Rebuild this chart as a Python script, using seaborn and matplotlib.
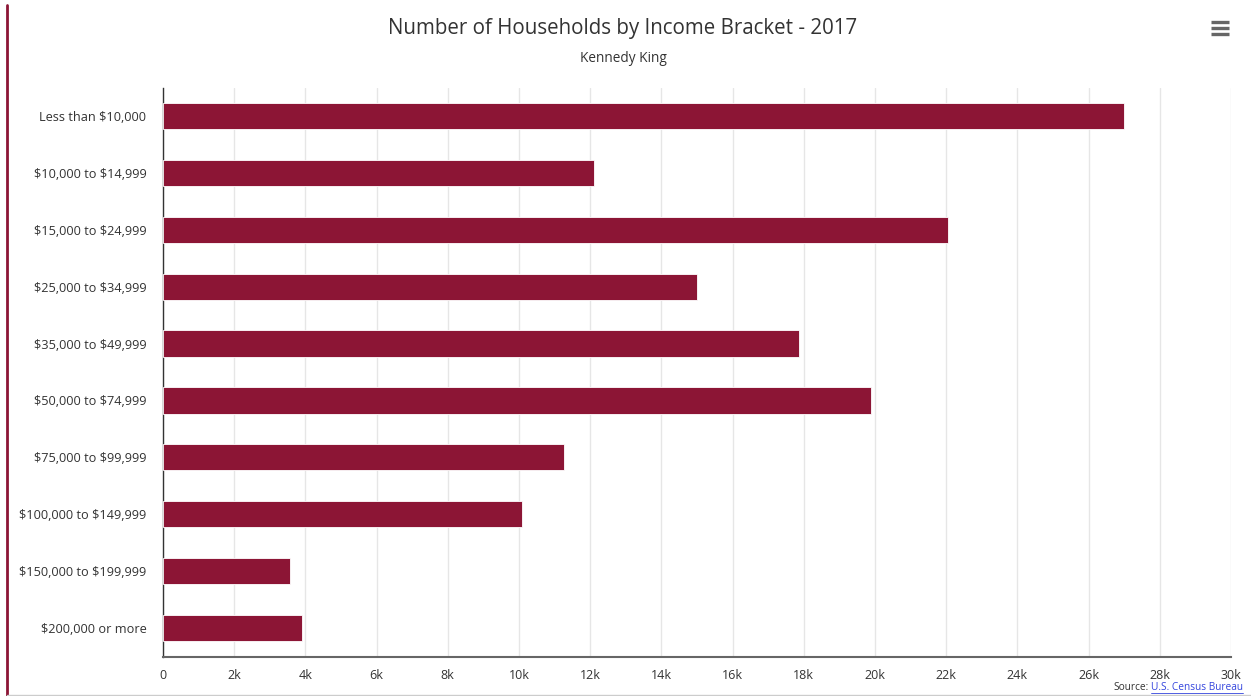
import matplotlib
matplotlib.use("Agg")
import matplotlib.pyplot as plt
import seaborn as sns
import pandas as pd
from matplotlib.lines import Line2D

# Household counts by income bracket
brackets = [
    "Less than $10,000",
    "$10,000 to $14,999",
    "$15,000 to $24,999",
    "$25,000 to $34,999",
    "$35,000 to $49,999",
    "$50,000 to $74,999",
    "$75,000 to $99,999",
    "$100,000 to $149,999",
    "$150,000 to $199,999",
    "$200,000 or more",
]
households = [27000, 12120, 22050, 15010, 17870, 19890, 11260, 10090, 3570, 3900]
tick_values = list(range(0, 30001, 2000))
tick_labels = ["0"] + [f"{v // 1000}k" for v in tick_values[1:]]

df = pd.DataFrame({"bracket": brackets, "households": households})

sns.set_theme(style="white")
plt.rcParams["font.family"] = ["Open Sans", "DejaVu Sans"]
plt.rcParams["text.parse_math"] = False

fig = plt.figure(figsize=(12.51, 6.96), dpi=100)
ax = fig.add_axes([163 / 1251, 1 - 656.5 / 696, (1231 - 163) / 1251, (656.5 - 87.5) / 696])

bar_color = "#8C1535"
sns.barplot(data=df, x="households", y="bracket", orient="h", color=bar_color,
            width=0.46, saturation=1, ax=ax, zorder=3)
for p in ax.patches:
    p.set_edgecolor("white")
    p.set_linewidth(0.6)

ax.set_xlim(0, 30000)
ax.set_ylim(len(brackets) - 0.5, -0.5)
ax.set_xticks(tick_values)
ax.set_xticklabels(tick_labels)
ax.set_xlabel("")
ax.set_ylabel("")
ax.xaxis.grid(True, color="#e6e6e6", linewidth=1, zorder=0)
ax.yaxis.grid(False)
ax.set_axisbelow(True)

for side in ["top", "right"]:
    ax.spines[side].set_visible(False)
ax.spines["left"].set_color("#333333")
ax.spines["left"].set_linewidth(1.0)
ax.spines["bottom"].set_color("#666666")
ax.spines["bottom"].set_linewidth(1.5)

ax.tick_params(axis="x", length=0, pad=9, labelsize=9, labelcolor="#333333")
ax.tick_params(axis="y", length=0, pad=12, labelsize=9.2, labelcolor="#333333")

fig.text(623 / 1251, 1 - 28.5 / 696, "Number of Households by Income Bracket - 2017",
         ha="center", va="center", fontsize=14.8, color="#333333")
fig.text(623 / 1251, 1 - 58.5 / 696, "Kennedy King",
         ha="center", va="center", fontsize=9.8, color="#333333")

# Menu icon (three horizontal bars)
for yy in (22, 28, 34):
    fig.add_artist(Line2D([1211 / 1251, 1229 / 1251], [1 - yy / 696, 1 - yy / 696],
                          color="#666666", linewidth=2.4, solid_capstyle="butt",
                          transform=fig.transFigure))

# Left accent border and bottom frame line
fig.add_artist(Line2D([7 / 1251, 7 / 1251], [1 - 5 / 696, 0], color="#8C1535",
                      linewidth=2.0, transform=fig.transFigure))
fig.add_artist(Line2D([7 / 1251, 1], [1 - 694.5 / 696, 1 - 694.5 / 696], color="#cccccc",
                      linewidth=1.0, transform=fig.transFigure))

# Source credit
link = fig.text(1243 / 1251, 1 - 688 / 696, "U.S. Census Bureau", ha="right", va="center",
                fontsize=7.3, color="#3344dd")
fig.canvas.draw()
bb = link.get_window_extent()
fig.add_artist(Line2D([bb.x0 / fig.bbox.width, bb.x1 / fig.bbox.width],
                      [(bb.y0 + 0.5) / fig.bbox.height] * 2, color="#3344dd",
                      linewidth=0.6, transform=fig.transFigure))
fig.text(bb.x0 / fig.bbox.width - 0.002, 1 - 688 / 696, "Source:", ha="right", va="center",
         fontsize=7.3, color="#333333")

fig.savefig("out.png", dpi=100)
